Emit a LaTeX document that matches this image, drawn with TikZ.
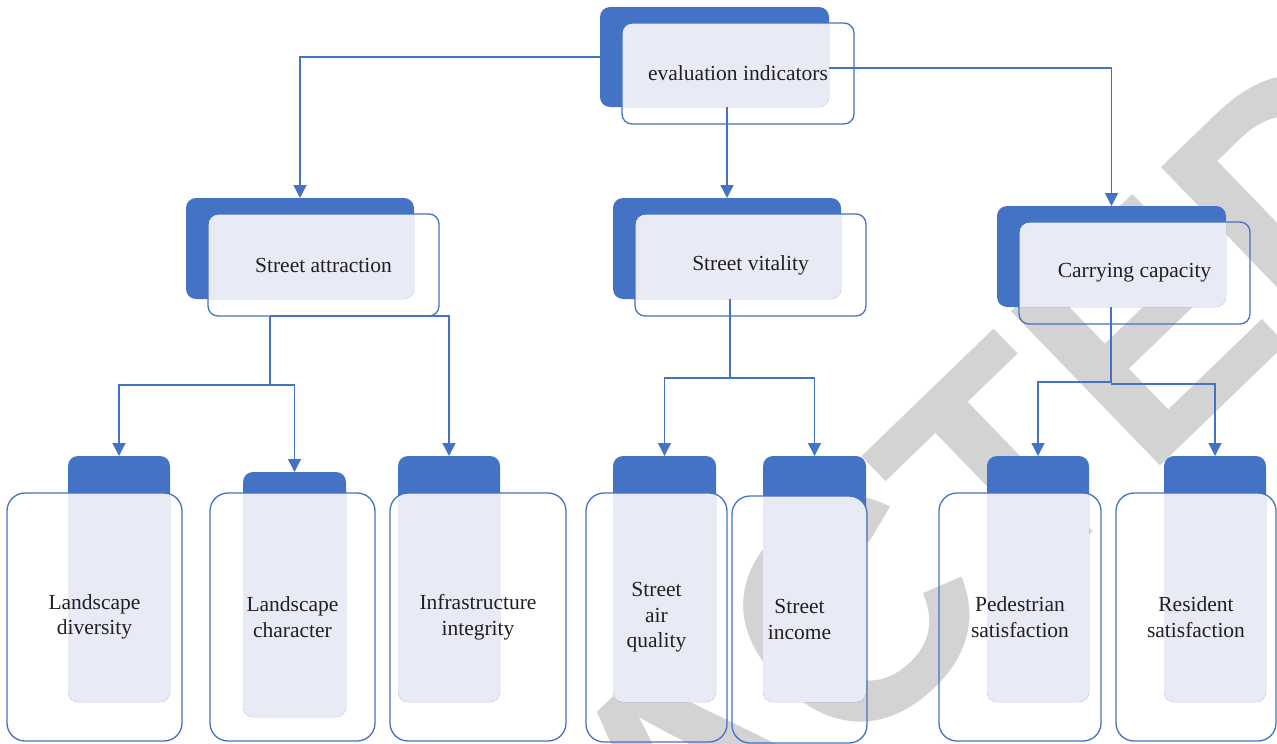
\documentclass[tikz,border=0pt]{standalone}
\usepackage{fontspec}
\setmainfont{Liberation Serif}
\newfontfamily\wmfont{Liberation Sans}
\usetikzlibrary{arrows.meta,fit}

\definecolor{tabblue}{HTML}{4472C4}
\definecolor{lav}{RGB}{232,235,246}
\definecolor{wmgray}{RGB}{211,211,211}
\definecolor{ink}{HTML}{231F20}

\tikzset{
  tab/.style={fill=tabblue, draw=none, inner sep=0pt, outer sep=0pt, rounded corners=10pt},
  frame/.style={draw=tabblue, line width=1.3pt, inner sep=0pt, outer sep=0pt},
  lbl/.style={text=ink, font=\fontsize{21.5}{25.5}\selectfont, align=center, inner sep=0pt},
  wire/.style={draw=tabblue, line width=1.4pt},
  link/.style={wire, -{Triangle[width=13pt,length=13pt]}},
  wm/.style={rotate=44, inner sep=0pt, outer sep=0pt, text=wmgray,
    font=\wmfont\bfseries\fontsize{312}{312}\selectfont},
}

% #1 name, #2/#3 tab corners, #4/#5 frame corners, #6 frame radius, #7 label
\newcommand\tierbox[7]{%
  \node[tab, fit={#2 #3}] (#1-tab) {};
  \begin{scope}
    \clip[rounded corners=10pt] #2 rectangle #3;
    \fill[lav, rounded corners=#6] #4 rectangle #5;
  \end{scope}
  \node[frame, rounded corners=#6, fit={#4 #5}] (#1) {};
  \node[lbl] (#1-text) at (#1.center) {#7};
}

\begin{document}
\begin{tikzpicture}[x=1pt, y=-1pt]
  \useasboundingbox (0,0) rectangle (1277,744);
  \fill[white] (0,0) rectangle (1277,744);

  % background stamp
  \begin{scope}
    \clip (0,0) rectangle (1277,744);
    \node[wm, anchor=base west] (wm-b) at (846.5,769.7) {CTED};
    \node[wm, anchor=base east] (wm-a) at (846.5,769.7) {RETRA};
  \end{scope}

  % root
  \tierbox{ei}{(600,7)}{(829,107)}{(622,23)}{(854,124)}{10pt}{evaluation indicators}

  % second tier
  \tierbox{sa}{(186,198)}{(414,299)}{(208,214)}{(439,316)}{10pt}{Street attraction}
  \tierbox{sv}{(613,198)}{(841,299)}{(635,214)}{(866,316)}{10pt}{Street vitality}
  \tierbox{cc}{(997,206)}{(1226,307)}{(1019,222)}{(1250,324)}{10pt}{Carrying capacity}

  % leaves
  \tierbox{ld}{(68,456)}{(170,702)}{(7,493)}{(182,741)}{18pt}{Landscape\\diversity}
  \tierbox{lc}{(243,472)}{(346,717)}{(210,493)}{(375,741)}{18pt}{Landscape\\character}
  \tierbox{ii}{(398,456)}{(500,702)}{(390,493)}{(566,741)}{18pt}{Infrastructure\\integrity}
  \tierbox{aq}{(613,456)}{(716,702)}{(586,493)}{(727,742)}{18pt}{Street\\air\\quality}
  \tierbox{si}{(763,456)}{(866,702)}{(732,496)}{(867,743)}{18pt}{Street\\income}
  \tierbox{ps}{(987,456)}{(1089,702)}{(939,493)}{(1101,741)}{18pt}{Pedestrian\\satisfaction}
  \tierbox{rs}{(1164,456)}{(1266,702)}{(1116,493)}{(1276,741)}{18pt}{Resident\\satisfaction}

  % root to second tier
  \draw[link] (ei-tab.west) -| (sa-tab.north);
  \draw[link] (ei-tab.south -| sv-tab.north) -- (sv-tab.north);
  \draw[link] ([yshift=-11pt]ei-tab.east) -| (cc-tab.north);

  % Street attraction branches
  \coordinate (sa-split) at (270,385);
  \draw[wire] (sa.south -| sa-split) -- (sa-split);
  \draw[link] (sa-split) -| (ld-tab.north);
  \draw[link] (sa-split) -| (lc-tab.north);
  \draw[link] (sa.south -| sa-split) -| (ii-tab.north);

  % Street vitality branches
  \coordinate (sv-split) at (730,378);
  \draw[wire] (sv-tab.south -| sv-split) -- (sv-split);
  \draw[link] (sv-split) -| (aq-tab.north);
  \draw[link] (sv-split) -| (si-tab.north);

  % Carrying capacity branches
  \coordinate (cc-split) at (1111,383);
  \draw[wire] (cc-tab.south -| cc-split) -- (cc-split);
  \draw[link] ([yshift=1pt]cc-split) -| (ps-tab.north);
  \draw[link] ([yshift=-1pt]cc-split) -| (rs-tab.north);
\end{tikzpicture}
\end{document}
